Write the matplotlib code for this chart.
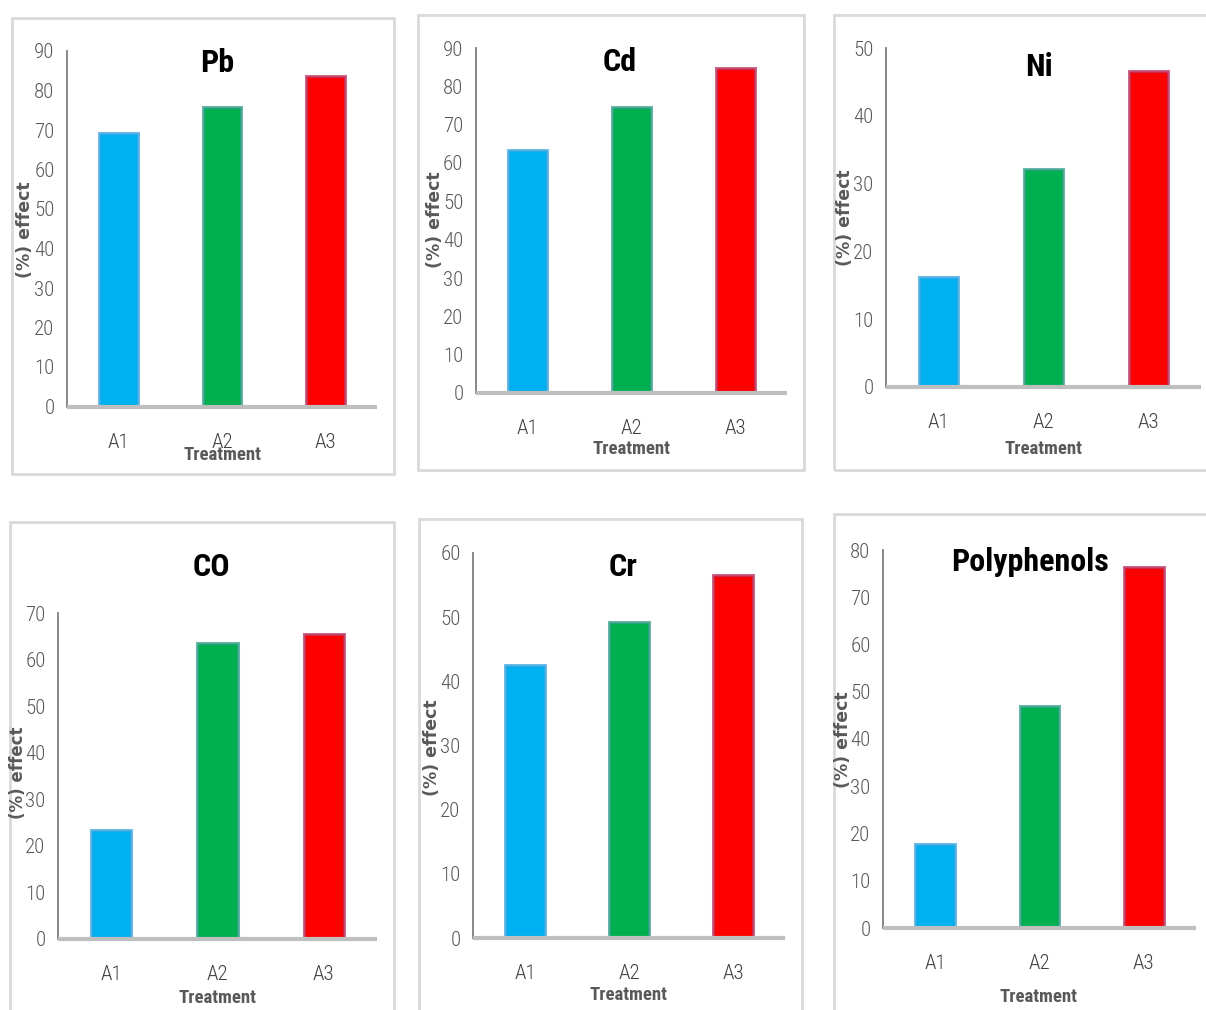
import matplotlib
matplotlib.use('Agg')
import matplotlib.pyplot as plt
from matplotlib.patches import Rectangle

# figure size in pixels (dpi 100)
W, H = 1206, 1010

# data
treatments = ['A1', 'A2', 'A3']
pb = [69.3, 75.7, 83.7]
cd = [63.4, 74.5, 84.7]
ni = [16.2, 32.2, 46.6]
co = [23.3, 63.6, 65.5]
cr = [42.5, 49.3, 56.6]
polyphenols = [17.8, 47.0, 76.3]

titles = ['Pb', 'Cd', 'Ni', 'CO', 'Cr', 'Polyphenols']
series = [pb, cd, ni, co, cr, polyphenols]
ymax = [90, 90, 50, 70, 60, 80]

bar_colors = ['#00B0F0', '#00B050', '#FF0000']
# soft Excel-like glow round the bars
edge_colors = [(0.25, 0.65, 0.88, 0.75), (0.22, 0.62, 0.55, 0.75),
               (0.72, 0.22, 0.40, 0.75)]

# layout in pixels: frame (x0, y0, x1, y1), axes (x0, top, x1, bottom),
# title centre, y-label centre, x-label centre
frames = [(12, 18, 394, 474), (418, 15, 804, 470), (834, 15, 1212, 470),
          (10, 522, 394, 1016), (419, 519, 802, 1016), (834, 514, 1212, 1016)]
axboxes = [(67, 51, 377, 406.5), (476, 48, 787, 393), (886, 48, 1201, 387),
           (58, 613, 377, 939), (473, 553, 785, 938), (883, 550, 1196, 928)]
title_pos = [(217, 63), (620, 62), (1039, 67), (211, 567), (623, 567), (1030, 562)]
ylab_pos = [(25, 230), (435, 220), (845, 218), (18, 773), (432, 748), (843, 740)]
xlab_pos = [(222, 455), (631, 449), (1043, 449), (217, 998), (628, 995), (1038, 997)]

narrow = ['Roboto Condensed', 'Liberation Sans Narrow', 'Liberation Sans', 'DejaVu Sans']


def fx(x):
    return x / W


def fy(y):
    return 1 - y / H


fig = plt.figure(figsize=(W / 100, H / 100), dpi=100)

for i in range(6):
    # light grey chart frame
    x0, y0, x1, y1 = frames[i]
    fig.patches.append(Rectangle((fx(x0), fy(y1)), fx(x1 - x0), (y1 - y0) / H,
                                 transform=fig.transFigure, fill=False,
                                 edgecolor='#D9D9D9', linewidth=2, zorder=0))

    a0, top, a1, bot = axboxes[i]
    ax = fig.add_axes([fx(a0), fy(bot), fx(a1 - a0), (bot - top) / H])
    ax.bar(range(3), series[i], width=0.377, color=bar_colors,
           edgecolor=edge_colors, linewidth=2.2, zorder=2)
    ax.set_xlim(-0.5, 2.5)
    ax.set_ylim(0, ymax[i])
    ax.set_yticks(range(0, ymax[i] + 1, 10))
    ax.set_xticks(range(3))
    ax.set_xticklabels(treatments)

    for sp in ['top', 'right']:
        ax.spines[sp].set_visible(False)
    ax.spines['left'].set_color('#7F7F7F')
    ax.spines['left'].set_linewidth(1.3)
    ax.spines['bottom'].set_color('#BFBFBF')
    ax.spines['bottom'].set_linewidth(3)
    ax.spines['bottom'].set_capstyle('butt')
    ax.spines['bottom'].set_zorder(3)

    ax.tick_params(axis='y', length=0, pad=9, labelcolor='#595959', labelsize=15)
    ax.tick_params(axis='x', length=0, pad=19, labelcolor='#404040', labelsize=15)
    for lab in ax.get_xticklabels() + ax.get_yticklabels():
        lab.set_family(narrow)
        lab.set_fontweight('light')

    fig.text(fx(title_pos[i][0]), fy(title_pos[i][1]), titles[i],
             ha='center', va='center', fontsize=23, fontweight='bold',
             family=narrow, color='black')
    ylab_size = 12 if titles[i] == 'CO' else 12.5
    fig.text(fx(ylab_pos[i][0]), fy(ylab_pos[i][1]), '(%) effect',
             ha='center', va='center', rotation=90, fontsize=ylab_size,
             fontweight='bold', color='#595959', family=['DejaVu Sans'])
    fig.text(fx(xlab_pos[i][0]), fy(xlab_pos[i][1]), 'Treatment',
             ha='center', va='center', fontsize=13.5, fontweight='bold',
             family=narrow, color='#595959')

fig.savefig('out.png', dpi=100, facecolor='white')
